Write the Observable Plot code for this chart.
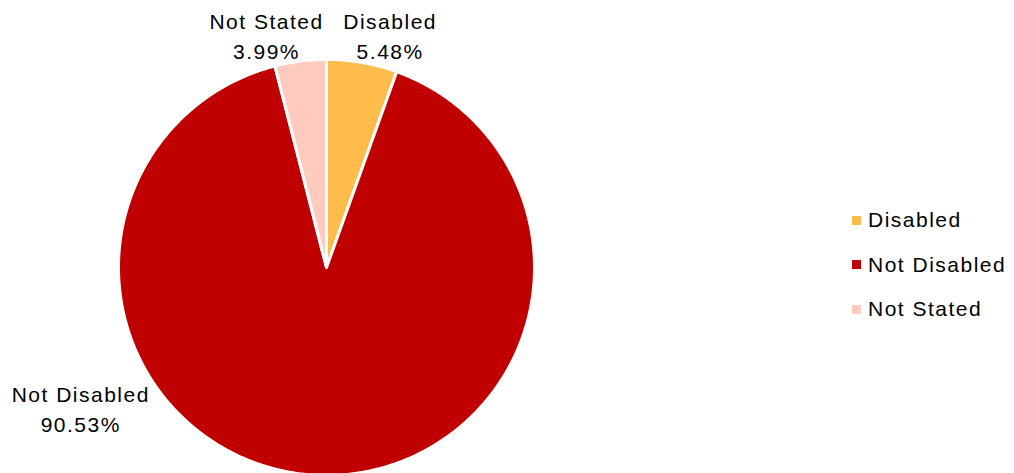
<!DOCTYPE html>
<html>
<head>
<meta charset="utf-8">
<script src="https://cdn.jsdelivr.net/npm/d3@7"></script>
<script src="https://cdn.jsdelivr.net/npm/@observablehq/plot@0.6"></script>
<style>
  html, body { margin: 0; padding: 0; background: #fff; }
  #wrap { position: relative; width: 1014px; height: 473px; overflow: hidden; font-family: "Liberation Sans", Arial, sans-serif; }
  #wrap svg text { letter-spacing: 1.5px; }
  #legend { position: absolute; left: 852px; top: 198px; font-size: 21px; color: #000; letter-spacing: 1.5px; }
  .item { display: flex; align-items: center; height: 44.5px; }
  .sw { width: 9px; height: 9px; margin-right: 7px; }
</style>
</head>
<body>
<div id="wrap"></div>
<script>
const categories = ["Disabled", "Not Disabled", "Not Stated"];
const shares = [5.48, 90.53, 3.99];
const pctLabels = ["5.48%", "90.53%", "3.99%"];
const colors = ["#FFBC4B", "#C00000", "#FFCBBF"];
// label offsets (px) from each slice's outer edge at its mid angle
const labelDx = [28, -236, -34];
const labelDy = [-28, -68, -27];

const total = d3.sum(shares);
let acc = 0;
const slices = categories.map((c, i) => {
  const a0 = acc / total * 2 * Math.PI;
  acc += shares[i];
  const a1 = acc / total * 2 * Math.PI;
  return {cat: c, a0, a1, mid: (a0 + a1) / 2, label: c + "\n" + pctLabels[i], i};
});

const pts = [];
for (const s of slices) {
  pts.push({cat: s.cat, x: 0, y: 0});
  const n = Math.max(2, Math.ceil((s.a1 - s.a0) / (Math.PI / 360)));
  for (let k = 0; k <= n; k++) {
    const a = s.a0 + (s.a1 - s.a0) * k / n;
    pts.push({cat: s.cat, x: Math.sin(a), y: Math.cos(a)});
  }
}

const labelMarks = slices.map(s => Plot.text([s], {
  x: d => Math.sin(d.mid),
  y: d => Math.cos(d.mid),
  text: "label",
  dx: labelDx[s.i],
  dy: labelDy[s.i],
  fontSize: 21,
  lineHeight: 1.42,
  fill: "#000",
  textAnchor: "middle",
  lineAnchor: "middle"
}));

const chart = Plot.plot({
  width: 1014,
  height: 473,
  margin: 0,
  style: {fontFamily: "'Liberation Sans', Arial, sans-serif", background: "#fff"},
  x: {domain: [-1, 1], range: [118, 534], axis: null},
  y: {domain: [-1, 1], range: [475, 59], axis: null},
  color: {domain: categories, range: colors},
  marks: [
    Plot.line(pts, {x: "x", y: "y", z: "cat", fill: "cat", stroke: "white", strokeWidth: 3, strokeLinejoin: "round", curve: "linear-closed"}),
    ...labelMarks
  ]
});

const wrap = document.getElementById("wrap");
wrap.appendChild(chart);
const legend = document.createElement("div");
legend.id = "legend";
categories.forEach((c, i) => {
  const it = document.createElement("div");
  it.className = "item";
  const sw = document.createElement("span");
  sw.className = "sw";
  sw.style.background = colors[i];
  const t = document.createElement("span");
  t.textContent = c;
  it.appendChild(sw); it.appendChild(t);
  legend.appendChild(it);
});
wrap.appendChild(legend);
</script>
</body>
</html>
